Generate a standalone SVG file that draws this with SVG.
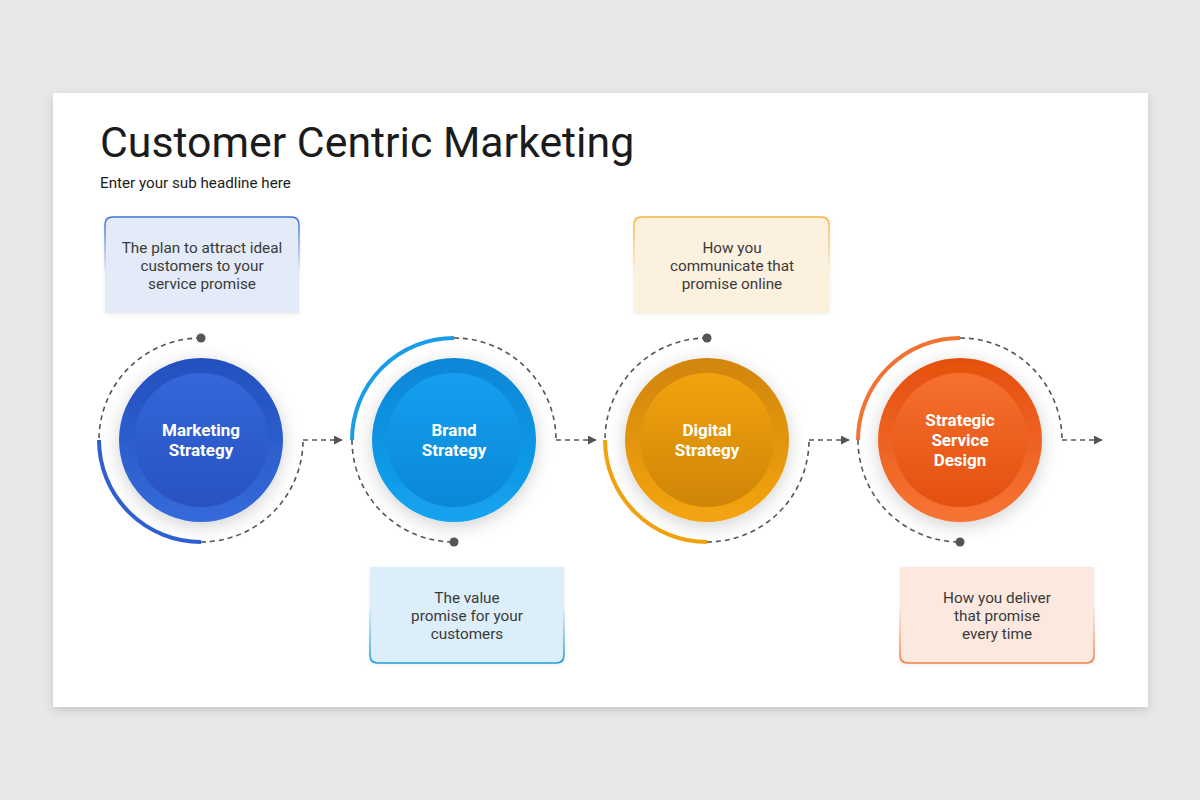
<svg xmlns="http://www.w3.org/2000/svg" width="1200" height="800" viewBox="0 0 1200 800">
<defs>
<style>
.title{font-family:Roboto,"Liberation Sans",sans-serif;font-size:42.8px;fill:#1b1b1b}
.sub{font-family:Roboto,"Liberation Sans",sans-serif;font-size:15.2px;fill:#1b1b1b}
.lbl{font-family:Roboto,"Liberation Sans",sans-serif;font-size:17px;font-weight:bold;fill:#fff;text-anchor:middle}
.box{font-family:Roboto,"Liberation Sans",sans-serif;font-size:15.3px;fill:#3a3a3a;text-anchor:middle}
.dash{fill:none;stroke:#555;stroke-width:1.6;stroke-dasharray:5 4}
.dot{fill:#555}
.arc{fill:none;stroke-width:4}
</style>
<filter id="slideShadow" x="-5%" y="-5%" width="110%" height="115%">
<feDropShadow dx="0" dy="3" stdDeviation="5" flood-color="#000" flood-opacity="0.15"/>
</filter>
<filter id="circShadow" x="-30%" y="-30%" width="160%" height="160%">
<feDropShadow dx="0" dy="4" stdDeviation="9" flood-color="#000" flood-opacity="0.18"/>
</filter>
<filter id="boxShadow" x="-10%" y="-10%" width="120%" height="130%">
<feDropShadow dx="0" dy="1" stdDeviation="2" flood-color="#000" flood-opacity="0.08"/>
</filter>
<marker id="arrow" viewBox="0 0 10 10" refX="9" refY="5" markerWidth="9" markerHeight="9" markerUnits="userSpaceOnUse" orient="auto">
<path d="M0,0 L10,5 L0,10 Z" fill="#555"/>
</marker>
<linearGradient id="bOut" x1="0" y1="0" x2="0" y2="1"><stop offset="0" stop-color="#2350be"/><stop offset="1" stop-color="#356ada"/></linearGradient>
<linearGradient id="bIn" x1="0" y1="0" x2="0" y2="1"><stop offset="0" stop-color="#3467d9"/><stop offset="1" stop-color="#2852c0"/></linearGradient>
<linearGradient id="cOut" x1="0" y1="0" x2="0" y2="1"><stop offset="0" stop-color="#0886d6"/><stop offset="1" stop-color="#14a3f0"/></linearGradient>
<linearGradient id="cIn" x1="0" y1="0" x2="0" y2="1"><stop offset="0" stop-color="#159ff0"/><stop offset="1" stop-color="#0a88d6"/></linearGradient>
<linearGradient id="yOut" x1="0" y1="0" x2="0" y2="1"><stop offset="0" stop-color="#d08508"/><stop offset="1" stop-color="#f4a512"/></linearGradient>
<linearGradient id="yIn" x1="0" y1="0" x2="0" y2="1"><stop offset="0" stop-color="#f2a30e"/><stop offset="1" stop-color="#cf8508"/></linearGradient>
<linearGradient id="oOut" x1="0" y1="0" x2="0" y2="1"><stop offset="0" stop-color="#e4500e"/><stop offset="1" stop-color="#f77434"/></linearGradient>
<linearGradient id="oIn" x1="0" y1="0" x2="0" y2="1"><stop offset="0" stop-color="#f6702e"/><stop offset="1" stop-color="#e3500f"/></linearGradient>
<linearGradient id="gTop1" x1="0" y1="0" x2="0" y2="1"><stop offset="0" stop-color="#3f72d6"/><stop offset="0.6" stop-color="#3f72d6" stop-opacity="0"/></linearGradient>
<linearGradient id="gBot2" x1="0" y1="1" x2="0" y2="0"><stop offset="0" stop-color="#1f9ad8"/><stop offset="0.6" stop-color="#1f9ad8" stop-opacity="0"/></linearGradient>
<linearGradient id="gTop3" x1="0" y1="0" x2="0" y2="1"><stop offset="0" stop-color="#f1b640"/><stop offset="0.6" stop-color="#f1b640" stop-opacity="0"/></linearGradient>
<linearGradient id="gBot4" x1="0" y1="1" x2="0" y2="0"><stop offset="0" stop-color="#ef8048"/><stop offset="0.6" stop-color="#ef8048" stop-opacity="0"/></linearGradient>
</defs>

<rect width="1200" height="800" fill="#e9e8e9"/>
<rect x="53" y="93" width="1095" height="614" fill="#fff" filter="url(#slideShadow)"/>

<g id="header">
<text class="title" x="100" y="157">Customer Centric Marketing</text>
<text class="sub" x="100" y="188">Enter your sub headline here</text>
</g>

<g id="connectors">
<path class="dash" d="M201,338 A102,102 0 0 0 99,440"/>
<path class="dash" d="M201,542 A102,102 0 0 0 303,440"/>
<path class="dash" d="M303,440 H342" marker-end="url(#arrow)"/>
<path class="dash" d="M454,338 A102,102 0 0 1 556,440"/>
<path class="dash" d="M352,440 A102,102 0 0 0 454,542"/>
<path class="dash" d="M556,440 H596" marker-end="url(#arrow)"/>
<path class="dash" d="M707,338 A102,102 0 0 0 605,440"/>
<path class="dash" d="M707,542 A102,102 0 0 0 809,440"/>
<path class="dash" d="M809,440 H849" marker-end="url(#arrow)"/>
<path class="dash" d="M960,338 A102,102 0 0 1 1062,440"/>
<path class="dash" d="M858,440 A102,102 0 0 0 960,542"/>
<path class="dash" d="M1062,440 H1102" marker-end="url(#arrow)"/>
<circle class="dot" cx="201" cy="338" r="4.5"/>
<circle class="dot" cx="454" cy="542" r="4.5"/>
<circle class="dot" cx="707" cy="338" r="4.5"/>
<circle class="dot" cx="960" cy="542" r="4.5"/>
</g>

<g id="node-marketing">
<path class="arc" stroke="#2f60d2" d="M99,440 A102,102 0 0 0 201,542"/>
<circle cx="201" cy="440" r="82" fill="url(#bOut)" filter="url(#circShadow)"/>
<circle cx="201" cy="440" r="67" fill="url(#bIn)"/>
<text class="lbl" x="201" y="436">Marketing</text>
<text class="lbl" x="201" y="456">Strategy</text>
</g>

<g id="node-brand">
<path class="arc" stroke="#1a9de8" d="M352,440 A102,102 0 0 1 454,338"/>
<circle cx="454" cy="440" r="82" fill="url(#cOut)" filter="url(#circShadow)"/>
<circle cx="454" cy="440" r="67" fill="url(#cIn)"/>
<text class="lbl" x="454" y="436">Brand</text>
<text class="lbl" x="454" y="456">Strategy</text>
</g>

<g id="node-digital">
<path class="arc" stroke="#f2a20e" d="M605,440 A102,102 0 0 0 707,542"/>
<circle cx="707" cy="440" r="82" fill="url(#yOut)" filter="url(#circShadow)"/>
<circle cx="707" cy="440" r="67" fill="url(#yIn)"/>
<text class="lbl" x="707" y="436">Digital</text>
<text class="lbl" x="707" y="456">Strategy</text>
</g>

<g id="node-strategic">
<path class="arc" stroke="#f27232" d="M858,440 A102,102 0 0 1 960,338"/>
<circle cx="960" cy="440" r="82" fill="url(#oOut)" filter="url(#circShadow)"/>
<circle cx="960" cy="440" r="67" fill="url(#oIn)"/>
<text class="lbl" x="960" y="426">Strategic</text>
<text class="lbl" x="960" y="446">Service</text>
<text class="lbl" x="960" y="466">Design</text>
</g>

<g id="box-marketing">
<rect x="105" y="217" width="194" height="96" fill="#e3eaf8" filter="url(#boxShadow)"/>
<path d="M105,313 V225 Q105,217 113,217 H291 Q299,217 299,225 V313" fill="none" stroke="url(#gTop1)" stroke-width="1.6"/>
<text class="box" x="202" y="253">The plan to attract ideal</text>
<text class="box" x="202" y="271">customers to your</text>
<text class="box" x="202" y="289">service promise</text>
</g>

<g id="box-brand">
<rect x="370" y="567" width="194" height="96" fill="#dceefa" filter="url(#boxShadow)"/>
<path d="M370,567 V655 Q370,663 378,663 H556 Q564,663 564,655 V567" fill="none" stroke="url(#gBot2)" stroke-width="1.6"/>
<text class="box" x="467" y="603">The value</text>
<text class="box" x="467" y="621">promise for your</text>
<text class="box" x="467" y="639">customers</text>
</g>

<g id="box-digital">
<rect x="634" y="217" width="195" height="96" fill="#fcf0de" filter="url(#boxShadow)"/>
<path d="M634,313 V225 Q634,217 642,217 H821 Q829,217 829,225 V313" fill="none" stroke="url(#gTop3)" stroke-width="1.6"/>
<text class="box" x="732" y="253">How you</text>
<text class="box" x="732" y="271">communicate that</text>
<text class="box" x="732" y="289">promise online</text>
</g>

<g id="box-strategic">
<rect x="900" y="567" width="194" height="96" fill="#fce8de" filter="url(#boxShadow)"/>
<path d="M900,567 V655 Q900,663 908,663 H1086 Q1094,663 1094,655 V567" fill="none" stroke="url(#gBot4)" stroke-width="1.6"/>
<text class="box" x="997" y="603">How you deliver</text>
<text class="box" x="997" y="621">that promise</text>
<text class="box" x="997" y="639">every time</text>
</g>
</svg>
